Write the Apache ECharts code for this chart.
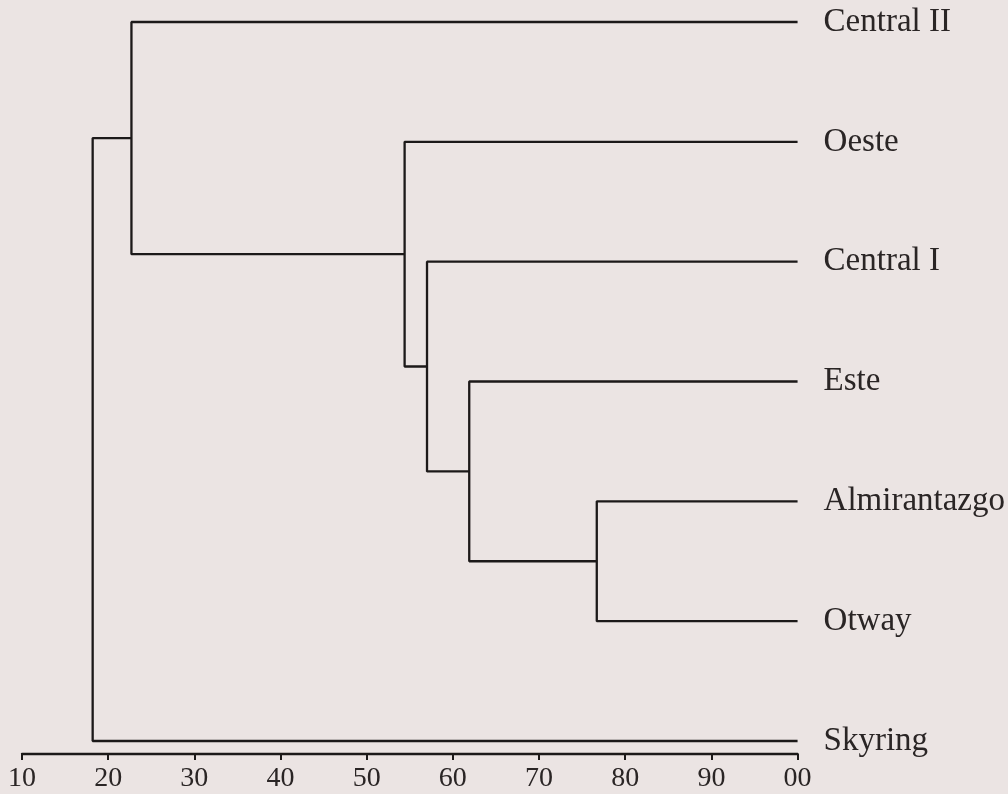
<!DOCTYPE html>
<html>
<head>
<meta charset="utf-8">
<script src="https://cdn.jsdelivr.net/npm/echarts@6/dist/echarts.min.js"></script>
<style>
html,body{margin:0;padding:0;background:#ebe4e3;}
#chart{width:1008px;height:794px;}
</style>
</head>
<body>
<div id="chart"></div>
<script>
// Leaves, top to bottom
const leaves = ['Central II', 'Oeste', 'Central I', 'Este', 'Almirantazgo', 'Otway', 'Skyring'];
// Merges: [upper child, lower child, join level]; numbers = leaf index, 'mN' = earlier merge N
const mergeA = [4, 5, 76.7];
const mergeB = [3, 'm0', 61.9];
const mergeC = [2, 'm1', 57.0];
const mergeD = [1, 'm2', 54.4];
const mergeE = [0, 'm3', 22.7];
const mergeF = [6, 'm4', 18.2];
const merges = [mergeA, mergeB, mergeC, mergeD, mergeE, mergeF];
const leafLevel = 100;
const tickValues = [10, 20, 30, 40, 50, 60, 70, 80, 90, 100];

const nodePos = {};
leaves.forEach((n, i) => { nodePos[i] = { x: leafLevel, y: i }; });
const series = [];
merges.forEach((m, k) => {
  const a = nodePos[m[0]], b = nodePos[m[1]], h = m[2];
  series.push({
    type: 'line',
    data: [[a.x, a.y], [h, a.y], [h, b.y], [b.x, b.y]],
    symbol: 'none',
    silent: true,
    clip: false,
    lineStyle: { color: '#1c1919', width: 2.3 },
    z: 5
  });
  nodePos['m' + k] = { x: h, y: (a.y + b.y) / 2 };
});

const chart = echarts.init(document.getElementById('chart'));
chart.setOption({
  backgroundColor: '#ebe4e3',
  animation: false,
  grid: { left: 22, right: 209, top: 22, bottom: 53, containLabel: false },
  xAxis: {
    type: 'value', min: 10, max: 100, interval: 10, position: 'bottom', offset: 13,
    axisLine: { show: true, onZero: false, lineStyle: { color: '#1c1919', width: 2.3 } },
    axisTick: { show: true, length: 6, lineStyle: { color: '#1c1919', width: 2 } },
    axisLabel: {
      show: true, margin: 11, fontFamily: 'Liberation Serif', fontSize: 28, color: '#2a2525',
      formatter: v => (tickValues.indexOf(v) >= 0 ? (v === 100 ? '00' : String(v)) : '')
    },
    splitLine: { show: false }
  },
  yAxis: {
    type: 'value', min: 0, max: leaves.length - 1, interval: 1, inverse: true, position: 'right',
    axisLine: { show: false }, axisTick: { show: false }, splitLine: { show: false },
    axisLabel: {
      show: true, margin: 26, fontFamily: 'Liberation Serif', fontSize: 33, color: '#2a2525',
      align: 'left', verticalAlign: 'middle',
      formatter: v => leaves[v] || ''
    }
  },
  series: series
});
</script>
</body>
</html>
